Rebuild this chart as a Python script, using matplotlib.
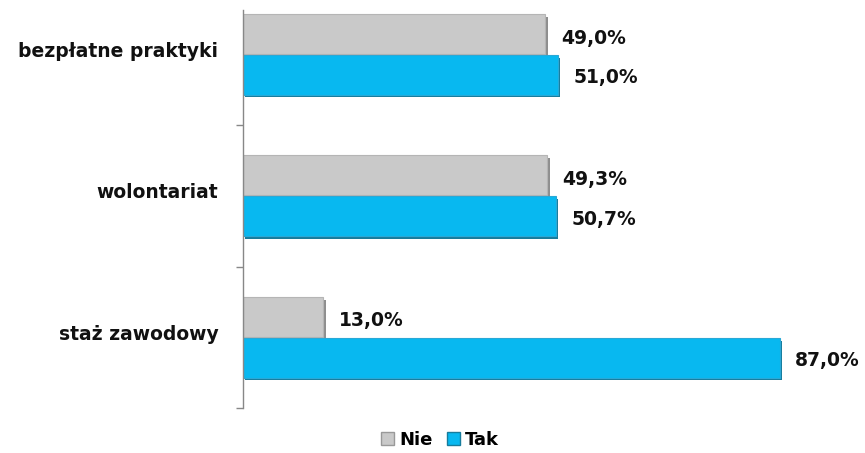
import matplotlib
matplotlib.use("Agg")
import matplotlib.pyplot as plt
from matplotlib.patches import Patch

categories = ["staż zawodowy", "wolontariat", "bezpłatne praktyki"]
nie = [13.0, 49.3, 49.0]
tak = [87.0, 50.7, 51.0]
series_names = ["Nie", "Tak"]

W, H = 865, 453
fig = plt.figure(figsize=(W / 100, H / 100), dpi=100)
ax = fig.add_axes([243 / W, 1 - 408 / H, (860 - 243) / W, (408 - 10) / H])

h = 0.28
off = 0.145
ypos = list(range(len(categories)))
gray, gray_sh = "#C9C9C9", "#8E8E8E"
blue, blue_sh = "#08B8F0", "#177C9C"

# shadows
ax.barh([y + off - 0.02 for y in ypos], nie, height=h, left=0.4, color=gray_sh, zorder=1)
ax.barh([y - off - 0.02 for y in ypos], tak, height=h, left=0.4, color=blue_sh, zorder=1)
ax.barh([y + off for y in ypos], nie, height=h, color=gray, edgecolor="#B5B5B5", linewidth=0.8, zorder=2)
ax.barh([y - off for y in ypos], tak, height=h, color=blue, edgecolor="#2AA8D6", linewidth=0.8, zorder=2)

for y, v in zip(ypos, nie):
    ax.text(v + 2.5, y + off - 0.03, f"{v:.1f}%".replace(".", ","), va="center", ha="left",
            fontsize=13.5, fontweight="bold", color="#111111")
for y, v in zip(ypos, tak):
    ax.text(v + 2.5, y - off - 0.02, f"{v:.1f}%".replace(".", ","), va="center", ha="left",
            fontsize=13.5, fontweight="bold", color="#111111", clip_on=False)

ax.set_xlim(0, 100)
ax.set_ylim(-0.5, 2.313)
ax.set_xticks([])
ax.set_yticks([y + 0.5 for y in [-1] + ypos[:-1]])
ax.set_yticklabels([])
ax.tick_params(axis="y", length=5, color="#888888", width=1)
for s in ["top", "right", "bottom"]:
    ax.spines[s].set_visible(False)
ax.spines["left"].set_color("#888888")
ax.spines["left"].set_linewidth(1)

for y, c in zip(ypos, categories):
    ax.text(-4.0, y + 0.02, c, ha="right", va="center", fontsize=13.5, fontweight="bold", color="#111111")

handles = [Patch(facecolor=gray, edgecolor="#999999", label=series_names[0]),
           Patch(facecolor=blue, edgecolor="#177C9C", label=series_names[1])]
fig.legend(handles=handles, loc="center", bbox_to_anchor=(440 / W, 1 - 440 / H), ncol=2,
           frameon=False, prop={"weight": "bold", "size": 13}, handlelength=0.7, handleheight=0.7,
           handletextpad=0.3, columnspacing=0.8)

fig.savefig("out.png", dpi=100)
